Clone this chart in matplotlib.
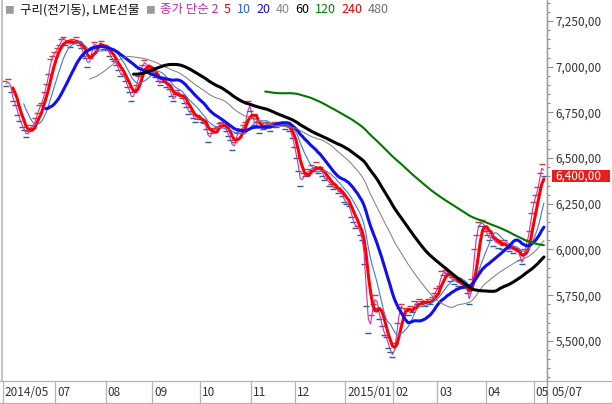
import numpy as np
import pandas as pd
import matplotlib
matplotlib.use('Agg')
import matplotlib.pyplot as plt
from matplotlib.lines import Line2D
from matplotlib.patches import Rectangle
from matplotlib.transforms import blended_transform_factory, offset_copy
from matplotlib.offsetbox import TextArea, HPacker, AnchoredOffsetbox
from matplotlib.ticker import MultipleLocator, FixedLocator, FuncFormatter

plt.rcParams['font.family'] = ['Noto Sans CJK KR', 'DejaVu Sans']

# ---------------- data ----------------
title = '구리(전기동), LME선물'
ma_prefix = '종가 단순'

close_2014_05 = [6920, 6895, 6935]
close_2014_06 = [6860, 6810, 6790, 6735, 6705, 6670, 6655, 6615, 6650, 6680, 6665,
                 6720, 6745, 6790, 6800, 6860, 6905, 6960, 7040, 7060, 7080]
close_2014_07 = [7100, 7120, 7150, 7165, 7120, 7140, 7110, 7150, 7130, 7160, 7120, 7100,
                 7060, 7050, 7000, 7050, 7110, 7135, 7100, 7120, 7140, 7095, 7110]
close_2014_08 = [7090, 7060, 7040, 7030, 7010, 6980, 6950, 6960, 6920, 6890, 6860,
                 6815, 6860, 6900, 6950, 6990, 7010, 7035, 6990, 6995, 6960]
close_2014_09 = [6975, 6945, 6920, 6900, 6935, 6915, 6890, 6880, 6840, 6810, 6850,
                 6870, 6845, 6830, 6800, 6780, 6740, 6755, 6720, 6700, 6735, 6715]
close_2014_10 = [6700, 6690, 6660, 6590, 6640, 6665, 6650, 6670, 6690, 6700, 6680, 6650,
                 6620, 6600, 6545, 6590, 6640, 6650, 6660, 6680, 6700, 6810, 6760]
close_2014_11 = [6720, 6680, 6700, 6640, 6690, 6660, 6680, 6700, 6650, 6690,
                 6700, 6670, 6700, 6680, 6700, 6660, 6680, 6650, 6610, 6560]
close_2014_12 = [6500, 6430, 6345, 6420, 6400, 6440, 6420, 6460, 6430, 6480, 6420, 6450,
                 6400, 6380, 6390, 6350, 6360, 6330, 6340, 6310, 6320, 6290, 6260]
close_2015_01 = [6250, 6240, 6180, 6150, 6120, 6130, 6080, 6050, 5920, 5690, 5545,
                 5640, 5700, 5750, 5680, 5620, 5580, 5530, 5520, 5460, 5440, 5412]
close_2015_02 = [5490, 5600, 5680, 5700, 5650, 5680, 5640, 5690, 5660, 5720,
                 5700, 5730, 5700, 5720, 5690, 5730, 5700, 5740, 5760, 5790]
close_2015_03 = [5800, 5880, 5860, 5890, 5870, 5830, 5850, 5810, 5840, 5800, 5820,
                 5790, 5800, 5760, 5700, 5840, 6000, 6080, 6150, 6130, 6160, 6100]
close_2015_04 = [6080, 6050, 6090, 6020, 6060, 6010, 6040, 6000, 6050, 6010, 5990,
                 6020, 5980, 6010, 5990, 5940, 5920, 6000, 6050, 6100, 6200, 6260]
close_2015_05 = [6300, 6340, 6420, 6468, 6400]

ma_periods = [2, 5, 10, 20, 40, 60, 120, 240, 480]
ma_legend_colors = ['#c42aa6', '#e00000', '#2a64d6', '#1414c0', '#8a8a8a',
                    '#000000', '#008000', '#e00000', '#707070']
# averages that are actually drawn on the chart
drawn_periods = [2, 5, 10, 20, 40, 60, 120]
drawn_colors = ['#cc30b0', '#ff0000', '#3c78e0', '#1010ee', '#7a7a7a', '#000000', '#007800']
drawn_widths = [0.8, 2.2, 0.8, 2.2, 0.7, 2.2, 1.5]

y_ticks = [5500, 5750, 6000, 6250, 6500, 6750, 7000, 7250]
last_label = '6,400,00'
month_keys = ['2014-05', '2014-07', '2014-08', '2014-09', '2014-10', '2014-11',
              '2014-12', '2015-01', '2015-02', '2015-03', '2015-04', '2015-05']
month_labels = ['2014/05', '07', '08', '09', '10', '11', '12', '2015/01',
                '02', '03', '04', '05']
end_label = '05/07'

dates = pd.bdate_range('2014-05-28', '2015-05-07')
close = pd.Series(np.concatenate([close_2014_05, close_2014_06, close_2014_07,
                                  close_2014_08, close_2014_09, close_2014_10,
                                  close_2014_11, close_2014_12, close_2015_01,
                                  close_2015_02, close_2015_03, close_2015_04,
                                  close_2015_05]).astype(float))
idx = np.arange(len(close))

# ---------------- figure ----------------
W, H = 612, 404
fig = plt.figure(figsize=(W / 100, H / 100), dpi=100)
ax = fig.add_axes([3 / W, 24 / H, 544 / W, 378 / H])
ax.set_xlim(-0.46, len(close) + 0.4)
ax.set_ylim(5286, 7354)

# close ticks
chg = close.diff().fillna(0).values
up = chg >= 0
ax.plot(idx[up], close.values[up], ls='none', marker='_', ms=4, mew=1,
        color='#c83c3c', zorder=1)
ax.plot(idx[~up], close.values[~up], ls='none', marker='_', ms=4, mew=1,
        color='#2a6090', zorder=1)

for k, (p, c, lw) in enumerate(zip(drawn_periods, drawn_colors, drawn_widths)):
    ma = close.rolling(p).mean()
    ax.plot(idx, ma.values, color=c, lw=lw, zorder=2 + k, solid_capstyle='round')

# y axis on the right
ax.yaxis.tick_right()
ax.yaxis.set_major_locator(FixedLocator(y_ticks))
ax.yaxis.set_minor_locator(MultipleLocator(50))
ax.yaxis.set_major_formatter(FuncFormatter(lambda v, p: f'{v:,.0f},00'))
ax.tick_params(axis='y', which='major', direction='out', length=4, width=0.8,
               color='#8c8c8c', labelsize=8.5, labelcolor='#333333', pad=2)
ax.tick_params(axis='y', which='minor', direction='out', length=2.5, width=0.8,
               color='#8c8c8c')
ax.set_xticks([])
for s in ['top', 'bottom', 'left']:
    ax.spines[s].set_visible(False)
ax.spines['right'].set_color('#a0a0a0')
ax.spines['right'].set_linewidth(1.0)

# left border
fig.add_artist(Line2D([1.5 / W, 1.5 / W], [24 / H, 1], transform=fig.transFigure,
                      color='#c4c4c4', lw=1.5))

# bottom date strip
trans_x = blended_transform_factory(ax.transData, fig.transFigure)
trans_ax = blended_transform_factory(ax.transAxes, fig.transFigure)
y_top = (H - 381) / H
y_bot = (H - 403) / H
y_mid = (H - 392) / H
for yy in (y_top, y_bot):
    fig.add_artist(Line2D([0, 1], [yy, yy], transform=fig.transFigure,
                          color='#b4b4b4', lw=0.9))
month_start = {}
for i, d in enumerate(dates):
    month_start.setdefault(d.strftime('%Y-%m'), i)
for key, lab in zip(month_keys, month_labels):
    i0 = month_start[key]
    xb = i0 - 0.6
    fig.add_artist(Line2D([xb, xb], [y_bot, y_top], transform=trans_x,
                          color='#b4b4b4', lw=0.9))
    fig.text(xb, y_mid, lab, transform=offset_copy(trans_x, fig, x=2, units='dots'),
             ha='left', va='center', fontsize=8.5, color='#333333')
fig.add_artist(Line2D([1, 1], [y_bot, 1], transform=trans_ax,
                      color='#a0a0a0', lw=1.0))
fig.text(1, y_mid, end_label, transform=offset_copy(trans_ax, fig, x=4, units='dots'),
         ha='left', va='center', fontsize=8.5, color='#333333')

# last price box (fixed-width red tag)
tb = blended_transform_factory(ax.transAxes, ax.transData)
last = close.iloc[-1]
ax_w_px = 544.0
px_per_val = 378.0 / (7354 - 5286)
box = Rectangle((1 + 5 / ax_w_px, last - 6 / px_per_val), 58 / ax_w_px, 12 / px_per_val,
                transform=tb, facecolor='#e3201c', edgecolor='none', clip_on=False,
                zorder=19)
ax.add_patch(box)
ax.text(1 + 8 / ax_w_px, last, last_label, transform=tb, ha='left', va='center',
        color='white', fontsize=8.5, clip_on=False, zorder=20)

# legend
sq_props = dict(color='#9a9a9a', fontsize=7)
areas = [TextArea('■', textprops=sq_props),
         TextArea(title, textprops=dict(color='#111111', fontsize=9)),
         TextArea('■', textprops=sq_props),
         TextArea(f'{ma_prefix} {ma_periods[0]}',
                  textprops=dict(color=ma_legend_colors[0], fontsize=9))]
for p, c in zip(ma_periods[1:], ma_legend_colors[1:]):
    areas.append(TextArea(str(p), textprops=dict(color=c, fontsize=9)))
pack = HPacker(children=areas, align='center', pad=0, sep=4)
ab = AnchoredOffsetbox(loc='upper left', child=pack, pad=0, borderpad=0.1,
                       frameon=False, bbox_to_anchor=(0, 1),
                       bbox_transform=ax.transAxes)
ax.add_artist(ab)

fig.savefig('out.png', dpi=100)
